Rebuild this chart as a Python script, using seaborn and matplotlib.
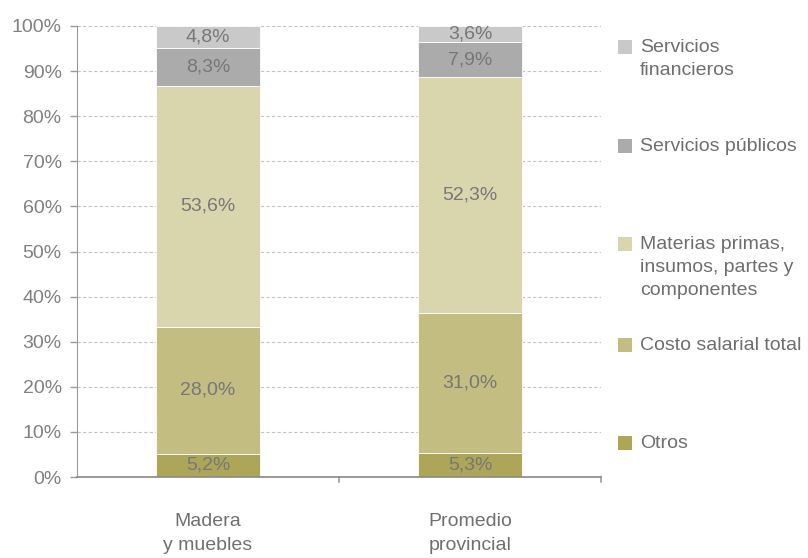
import numpy as np
import pandas as pd
import matplotlib
matplotlib.use("Agg")
import matplotlib.pyplot as plt
import seaborn as sns
from matplotlib.patches import Rectangle

# data
categories = ["Madera\ny muebles", "Promedio\nprovincial"]
series = ["Otros", "Costo salarial total", "Materias primas,\ninsumos, partes y\ncomponentes",
          "Servicios públicos", "Servicios\nfinancieros"]
otros = [5.2, 5.3]
costo_salarial = [28.0, 31.0]
materias_primas = [53.6, 52.3]
servicios_publicos = [8.3, 7.9]
servicios_financieros = [4.8, 3.6]
colors = ["#ada658", "#c3bd82", "#d9d6ae", "#ababab", "#c9c9c9"]

values = [otros, costo_salarial, materias_primas, servicios_publicos, servicios_financieros]

sns.set_style("white")
plt.rcParams['font.family'] = ['Liberation Sans', 'DejaVu Sans']
fs = 14

fig = plt.figure(figsize=(8.08, 5.58), dpi=100)
ax = fig.add_axes([77/808, 1 - 477/558, (601-77)/808, (477-26)/558])

bottom = np.zeros(len(categories))
for name, vals, col in zip(series, values, colors):
    df = pd.DataFrame({"cat": categories, "val": vals})
    sns.barplot(data=df, x="cat", y="val", color=col, width=0.4, bottom=bottom,
                edgecolor="white", linewidth=0.6, ax=ax, saturation=1, errorbar=None)
    for i, v in enumerate(vals):
        ytxt = min(bottom[i] + v / 2, 100 - v / 2 + 0.4)
        ax.text(i, ytxt, f"{v:.1f}%".replace(".", ","), ha="center", va="center",
                fontsize=fs, color="#777777", zorder=5)
    bottom = bottom + np.array(vals)

ax.set_xlim(-0.5, 1.5)
ax.set_ylim(0, 100)
ax.set_yticks(np.arange(0, 101, 10))
ax.set_yticklabels([f"{t}%" for t in range(0, 101, 10)])
ax.yaxis.grid(True, color="#c4c4c4", linestyle=(0, (3, 2)), linewidth=0.8)
ax.set_axisbelow(True)
ax.set_xlabel("")
ax.set_ylabel("")

ax.set_xticks([0, 1])
ax.set_xticklabels(categories, color="#707070", fontsize=fs, linespacing=1.55)
ax.tick_params(axis="x", length=0, pad=26)
ax.tick_params(axis="y", length=5, width=1, color="#9a9a9a", labelcolor="#808080",
               labelsize=fs, pad=6, left=True)
for x in [0.5, 1.5]:
    ax.plot([x, x], [0, -1.2], color="#aaaaaa", lw=1.4, clip_on=False)

for s in ["top", "right"]:
    ax.spines[s].set_visible(False)
ax.spines["left"].set_color("#9a9a9a")
ax.spines["bottom"].set_color("#888888")
ax.spines["bottom"].set_linewidth(1.2)

# legend, drawn by hand: evenly spaced markers, text hangs from first line
marker_y = [443, 345, 244, 146, 47]
for name, col, y in zip(series, colors, marker_y):
    fig.patches.append(Rectangle((618/808, 1 - (y + 7)/558), 14/808, 14/558,
                                 transform=fig.transFigure, facecolor=col, edgecolor="none"))
    fig.text(640/808, 1 - (y - 8)/558, name, ha="left", va="top", fontsize=fs,
             color="#6e6e6e", linespacing=1.45)

fig.savefig("out.png", dpi=100)
